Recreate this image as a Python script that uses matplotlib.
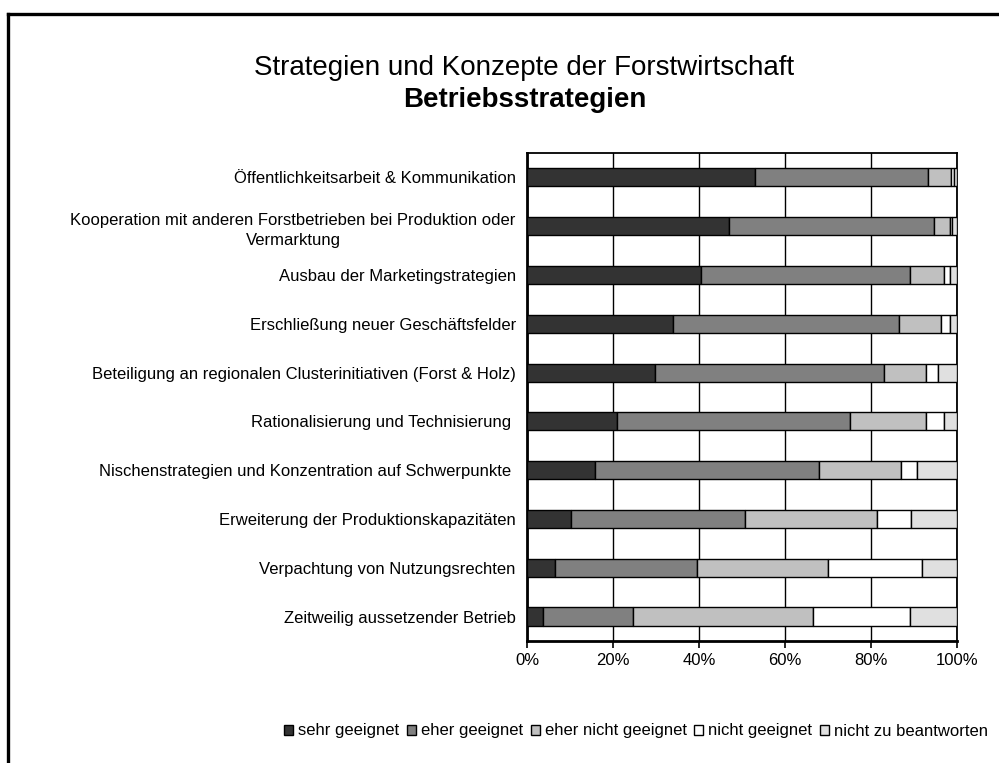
import matplotlib
matplotlib.use("Agg")
import matplotlib.pyplot as plt
from matplotlib.lines import Line2D
from matplotlib.ticker import FuncFormatter, MultipleLocator
import numpy as np

plt.rcParams['font.family'] = ['Liberation Sans', 'DejaVu Sans']

categories = [
    "Öffentlichkeitsarbeit & Kommunikation",
    "Kooperation mit anderen Forstbetrieben bei Produktion oder\nVermarktung",
    "Ausbau der Marketingstrategien",
    "Erschließung neuer Geschäftsfelder",
    "Beteiligung an regionalen Clusterinitiativen (Forst & Holz)",
    "Rationalisierung und Technisierung ",
    "Nischenstrategien und Konzentration auf Schwerpunkte ",
    "Erweiterung der Produktionskapazitäten",
    "Verpachtung von Nutzungsrechten",
    "Zeitweilig aussetzender Betrieb",
]
series_names = ["sehr geeignet", "eher geeignet", "eher nicht geeignet",
                "nicht geeignet", "nicht zu beantworten"]
sehr_geeignet = [53.1, 47.0, 40.5, 34.0, 29.8, 21.0, 15.8, 10.3, 6.5, 3.7]
eher_geeignet = [40.1, 47.6, 48.5, 52.6, 53.1, 54.0, 52.2, 40.5, 33.1, 21.0]
eher_nicht_geeignet = [5.4, 3.7, 7.9, 9.7, 9.8, 17.7, 19.0, 30.7, 30.3, 41.9]
nicht_geeignet = [0.6, 0.5, 1.4, 2.0, 2.8, 4.2, 3.8, 7.9, 21.9, 22.4]
nicht_zu_beantworten = [0.8, 1.2, 1.7, 1.7, 4.5, 3.1, 9.2, 10.6, 8.2, 11.0]
colors = ["#333333", "#808080", "#C0C0C0", "#FFFFFF", "#E0E0E0"]

series = [sehr_geeignet, eher_geeignet, eher_nicht_geeignet,
          nicht_geeignet, nicht_zu_beantworten]

fig = plt.figure(figsize=(9.99, 7.63), dpi=100)
ax = fig.add_axes([0.5275, 0.160, 0.4305, 0.6395])

y = np.arange(len(categories))
left = np.zeros(len(categories))
for name, vals, c in zip(series_names, series, colors):
    vals = np.array(vals)
    ax.barh(y, vals, left=left, height=0.37, color=c, edgecolor="black",
            linewidth=1.0, label=name, zorder=3)
    left += vals

ax.set_xlim(0, 100)
ax.set_ylim(len(categories) - 0.5, -0.5)
ax.xaxis.set_major_locator(MultipleLocator(20))
ax.xaxis.set_major_formatter(FuncFormatter(lambda v, p: f"{int(round(v))}%"))
ax.grid(axis="x", color="black", linewidth=1.0, zorder=0)
ax.set_yticks(y)
ax.set_yticklabels(categories, fontsize=12)
for lab in ax.get_yticklabels():
    lab.set_multialignment("center")
    lab.set_linespacing(1.45)
ax.tick_params(axis="y", which="major", length=0, pad=8)
ax.tick_params(axis="x", length=5, width=1.2, direction="out", labelsize=12, pad=4)
for s in ax.spines.values():
    s.set_linewidth(1.3)
    s.set_color("black")
ax.spines["left"].set_linewidth(2)
ax.spines["bottom"].set_linewidth(2)

fig.text(0.525, 1 - 68 / 763, "Strategien und Konzepte der Forstwirtschaft",
         ha="center", va="center", fontsize=20)
fig.text(0.525, 1 - 100 / 763, "Betriebsstrategien", ha="center", va="center",
         fontsize=20, fontweight="bold")

leg = fig.legend(loc="center", bbox_to_anchor=(636 / 999, 1 - 731 / 763), ncol=5,
                 frameon=False, fontsize=12, handlelength=0.55, handleheight=0.55,
                 handletextpad=0.3, columnspacing=0.45, borderaxespad=0)

fig.add_artist(Line2D([8 / 999, 1.0], [1 - 13.5 / 763] * 2, color="black",
                      linewidth=2.4, transform=fig.transFigure,
                      solid_capstyle="projecting"))
fig.add_artist(Line2D([8 / 999] * 2, [0, 1 - 13.5 / 763], color="black",
                      linewidth=2.4, transform=fig.transFigure,
                      solid_capstyle="projecting"))

fig.savefig("out.png", dpi=100)
